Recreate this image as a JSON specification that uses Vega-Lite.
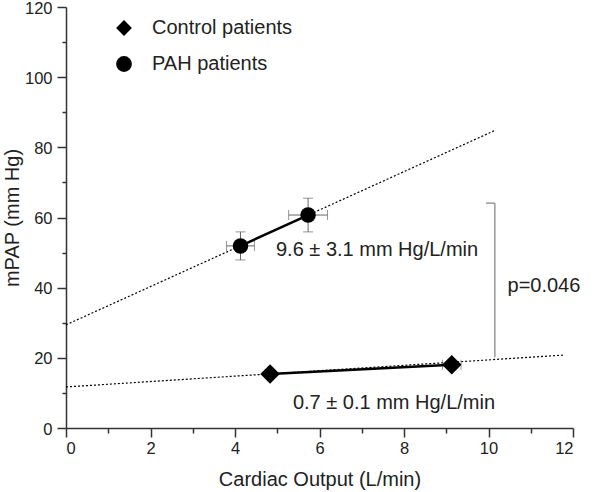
{
  "$schema": "https://vega.github.io/schema/vega-lite/v6.json",
  "width": 507,
  "height": 421,
  "autosize": {"type": "none"},
  "padding": {"left": 66, "top": 7, "right": 27, "bottom": 64},
  "background": "white",
  "config": {
    "view": {"stroke": null},
    "font": "Liberation Sans",
    "axis": {
      "grid": false,
      "domainColor": "#333333",
      "domainWidth": 1.5,
      "tickColor": "#333333",
      "tickWidth": 1.5,
      "labelFont": "Liberation Sans",
      "labelFontSize": 16.5,
      "labelColor": "#222222",
      "titleFont": "Liberation Sans",
      "titleFontSize": 20,
      "titleFontWeight": "normal",
      "titleColor": "#222222",
      "labelOverlap": false
    }
  },
  "datasets": {
    "fits": [
      {"group": "PAH patients", "co": 0, "mpap": 29.4},
      {"group": "PAH patients", "co": 10.13, "mpap": 84.7},
      {"group": "Control patients", "co": 0, "mpap": 11.7},
      {"group": "Control patients", "co": 11.8, "mpap": 20.8}
    ],
    "bracket": [
      {"x": 10.15, "x2": 10.15, "y": 20.2, "y2": 64.1},
      {"x": 9.94, "x2": 10.15, "y": 64.1, "y2": 64.1}
    ],
    "points": [
      {"group": "PAH patients", "co": 4.13, "mpap": 51.9, "colo": 3.8, "cohi": 4.46, "mlo": 47.9, "mhi": 55.9},
      {"group": "PAH patients", "co": 5.73, "mpap": 60.7, "colo": 5.27, "cohi": 6.19, "mlo": 55.9, "mhi": 65.5},
      {"group": "Control patients", "co": 4.83, "mpap": 15.4, "colo": 4.73, "cohi": 4.93, "mlo": 14.9, "mhi": 15.9},
      {"group": "Control patients", "co": 9.13, "mpap": 18.0, "colo": 8.91, "cohi": 9.35, "mlo": 17.4, "mhi": 18.6}
    ],
    "notes": [
      {"t": "9.6 ± 3.1 mm Hg/L/min", "x": 4.97, "y": 50.6},
      {"t": "0.7 ± 0.1 mm Hg/L/min", "x": 5.37, "y": 7.1},
      {"t": "p=0.046", "x": 10.45, "y": 40.6}
    ]
  },
  "resolve": {"axis": {"x": "independent", "y": "independent"}},
  "layer": [
    {
      "layer": [
        {
          "data": {"name": "fits"},
          "mark": {"type": "line", "color": "black", "strokeWidth": 1.2, "strokeDash": [2, 2]},
          "encoding": {
            "x": {
              "field": "co", "type": "quantitative",
              "scale": {"domain": [0, 12], "nice": false, "zero": false},
              "axis": {
                "orient": "bottom",
                "title": "Cardiac Output (L/min)",
                "values": [0, 2, 4, 6, 8, 10, 12],
                "tickSize": 9,
                "labelPadding": 3,
                "titlePadding": 13
              }
            },
            "y": {
              "field": "mpap", "type": "quantitative",
              "scale": {"domain": [0, 120], "nice": false},
              "axis": {
                "orient": "left",
                "title": "mPAP (mm Hg)",
                "values": [0, 20, 40, 60, 80, 100, 120],
                "tickSize": 9,
                "labelPadding": 5,
                "labelOffset": 1,
                "titlePadding": 2
              }
            },
            "detail": {"field": "group"}
          }
        },
        {
          "data": {"name": "bracket"},
          "mark": {"type": "rule", "color": "#999999", "strokeWidth": 1.5},
          "encoding": {
            "x": {"field": "x", "type": "quantitative"},
            "x2": {"field": "x2"},
            "y": {"field": "y", "type": "quantitative"},
            "y2": {"field": "y2"}
          }
        },
        {
          "data": {"name": "points"},
          "mark": {"type": "rule", "color": "#666666", "strokeWidth": 1},
          "encoding": {
            "x": {"field": "co", "type": "quantitative"},
            "y": {"field": "mlo", "type": "quantitative"},
            "y2": {"field": "mhi"}
          }
        },
        {
          "data": {"name": "points"},
          "mark": {"type": "rule", "color": "#666666", "strokeWidth": 1},
          "encoding": {
            "x": {"field": "colo", "type": "quantitative"},
            "x2": {"field": "cohi"},
            "y": {"field": "mpap", "type": "quantitative"}
          }
        },
        {
          "data": {"name": "points"},
          "mark": {"type": "tick", "orient": "horizontal", "color": "#666666", "thickness": 1, "size": 10},
          "encoding": {
            "x": {"field": "co", "type": "quantitative"},
            "y": {"field": "mlo", "type": "quantitative"}
          }
        },
        {
          "data": {"name": "points"},
          "mark": {"type": "tick", "orient": "horizontal", "color": "#666666", "thickness": 1, "size": 10},
          "encoding": {
            "x": {"field": "co", "type": "quantitative"},
            "y": {"field": "mhi", "type": "quantitative"}
          }
        },
        {
          "data": {"name": "points"},
          "mark": {"type": "tick", "orient": "vertical", "color": "#666666", "thickness": 1, "size": 10},
          "encoding": {
            "x": {"field": "colo", "type": "quantitative"},
            "y": {"field": "mpap", "type": "quantitative"}
          }
        },
        {
          "data": {"name": "points"},
          "mark": {"type": "tick", "orient": "vertical", "color": "#666666", "thickness": 1, "size": 10},
          "encoding": {
            "x": {"field": "cohi", "type": "quantitative"},
            "y": {"field": "mpap", "type": "quantitative"}
          }
        },
        {
          "data": {"name": "points"},
          "mark": {"type": "line", "color": "black", "strokeWidth": 2.5},
          "encoding": {
            "x": {"field": "co", "type": "quantitative"},
            "y": {"field": "mpap", "type": "quantitative"},
            "detail": {"field": "group"}
          }
        },
        {
          "data": {"name": "points"},
          "transform": [{"filter": "datum.group === 'Control patients'"}],
          "mark": {"type": "point", "filled": true, "color": "black", "opacity": 1, "size": 380},
          "encoding": {
            "x": {"field": "co", "type": "quantitative"},
            "y": {"field": "mpap", "type": "quantitative"},
            "shape": {
              "field": "group", "type": "nominal",
              "scale": {"domain": ["Control patients", "PAH patients"], "range": ["diamond", "circle"]},
              "legend": {
                "title": null,
                "orient": "none",
                "legendX": 48,
                "legendY": 11,
                "padding": 0,
                "labelFont": "Liberation Sans",
                "labelFontSize": 20,
                "labelColor": "#222222",
                "symbolSize": 250,
                "symbolFillColor": "black",
                "symbolStrokeColor": "black",
                "symbolStrokeWidth": 0,
                "symbolOpacity": 1,
                "rowPadding": 16,
                "labelOffset": 18
              }
            }
          }
        },
        {
          "data": {"name": "points"},
          "transform": [{"filter": "datum.group === 'PAH patients'"}],
          "mark": {"type": "point", "filled": true, "color": "black", "opacity": 1, "size": 240},
          "encoding": {
            "x": {"field": "co", "type": "quantitative"},
            "y": {"field": "mpap", "type": "quantitative"},
            "shape": {"field": "group", "type": "nominal"}
          }
        },
        {
          "data": {"name": "notes"},
          "mark": {"type": "text", "align": "left", "baseline": "middle", "fontSize": 20, "color": "#222222", "font": "Liberation Sans"},
          "encoding": {
            "x": {"field": "x", "type": "quantitative"},
            "y": {"field": "y", "type": "quantitative"},
            "text": {"field": "t"}
          }
        }
      ]
    },
    {
      "data": {"name": "fits"},
      "mark": {"type": "point", "opacity": 0},
      "encoding": {
        "x": {
          "field": "co", "type": "quantitative",
          "axis": {
            "orient": "bottom",
            "title": null,
            "values": [1, 3, 5, 7, 9, 11],
            "labels": false,
            "domain": false,
            "tickSize": 5
          }
        },
        "y": {
          "field": "mpap", "type": "quantitative",
          "axis": {
            "orient": "left",
            "title": null,
            "values": [10, 30, 50, 70, 90, 110],
            "labels": false,
            "domain": false,
            "tickSize": 4
          }
        }
      }
    }
  ]
}
